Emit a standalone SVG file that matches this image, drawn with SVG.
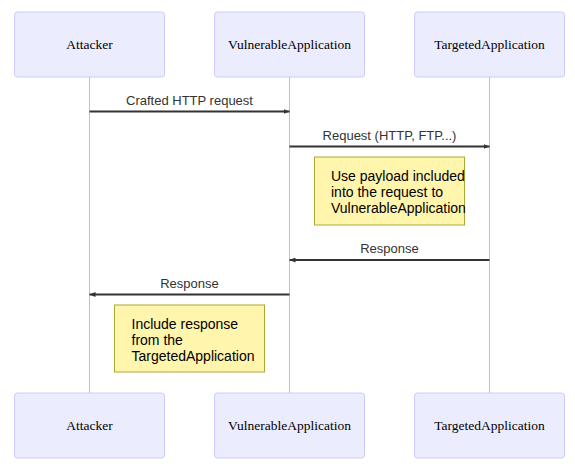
<svg xmlns="http://www.w3.org/2000/svg" width="575" height="471" viewBox="0 0 575 471">
<style>
.actor{fill:#ECECFF;stroke:#CCCCFF;stroke-width:1}
.actorText{font-family:"Liberation Serif",serif;font-size:13.5px;fill:#000;text-anchor:middle}
.life{stroke:#999;stroke-width:0.6;fill:none}
.msg{stroke:#333;stroke-width:2;fill:none}
.msgText{font-family:"Liberation Sans",sans-serif;font-size:13px;fill:#333;text-anchor:middle}
.note{fill:#FFF5AD;stroke:#AAAA33;stroke-width:1}
.noteText{font-family:"Liberation Sans",sans-serif;font-size:14px;fill:#000}
</style>
<defs>
<marker id="arrow" viewBox="0 0 12 10" refX="12" refY="5" markerWidth="6" markerHeight="5" markerUnits="userSpaceOnUse" orient="auto">
<path d="M0,0 L12,5 L0,10 z" fill="#333"/>
</marker>
</defs>
<g id="lifelines">
<line class="life" x1="89.5" y1="77" x2="89.5" y2="393"/>
<line class="life" x1="289.5" y1="77" x2="289.5" y2="393"/>
<line class="life" x1="489.5" y1="77" x2="489.5" y2="393"/>
</g>
<g id="actor-Attacker-top"><rect class="actor" x="14.5" y="12" width="150" height="65" rx="3"/><text class="actorText" x="89.5" y="49">Attacker</text></g>
<g id="actor-VulnerableApplication-top"><rect class="actor" x="214.5" y="12" width="150" height="65" rx="3"/><text class="actorText" x="289.5" y="49">VulnerableApplication</text></g>
<g id="actor-TargetedApplication-top"><rect class="actor" x="414.5" y="12" width="150" height="65" rx="3"/><text class="actorText" x="489.5" y="49">TargetedApplication</text></g>
<g id="actor-Attacker-bottom"><rect class="actor" x="14.5" y="393" width="150" height="65" rx="3"/><text class="actorText" x="89.5" y="430">Attacker</text></g>
<g id="actor-VulnerableApplication-bottom"><rect class="actor" x="214.5" y="393" width="150" height="65" rx="3"/><text class="actorText" x="289.5" y="430">VulnerableApplication</text></g>
<g id="actor-TargetedApplication-bottom"><rect class="actor" x="414.5" y="393" width="150" height="65" rx="3"/><text class="actorText" x="489.5" y="430">TargetedApplication</text></g>
<g id="connectors">
<line class="msg" x1="89.5" y1="111.5" x2="289.5" y2="111.5" marker-end="url(#arrow)"/>
<text class="msgText" x="189.5" y="105">Crafted HTTP request</text>
<line class="msg" x1="289.5" y1="146.5" x2="489.5" y2="146.5" marker-end="url(#arrow)"/>
<text class="msgText" x="389.5" y="139.5">Request (HTTP, FTP...)</text>
<line class="msg" x1="489.5" y1="260" x2="289.5" y2="260" marker-end="url(#arrow)"/>
<text class="msgText" x="389.5" y="253">Response</text>
<line class="msg" x1="289.5" y1="294.5" x2="89.5" y2="294.5" marker-end="url(#arrow)"/>
<text class="msgText" x="189.5" y="288">Response</text>
</g>
<g id="note-1"><rect class="note" x="314.5" y="157" width="150" height="68"/>
<text class="noteText" x="331" y="181">Use payload included</text>
<text class="noteText" x="331" y="197">into the request to</text>
<text class="noteText" x="331" y="213">VulnerableApplication</text></g>
<g id="note-2"><rect class="note" x="114.5" y="305" width="150" height="67"/>
<text class="noteText" x="131.5" y="329">Include response</text>
<text class="noteText" x="131.5" y="345">from the</text>
<text class="noteText" x="131.5" y="361">TargetedApplication</text></g>
</svg>
